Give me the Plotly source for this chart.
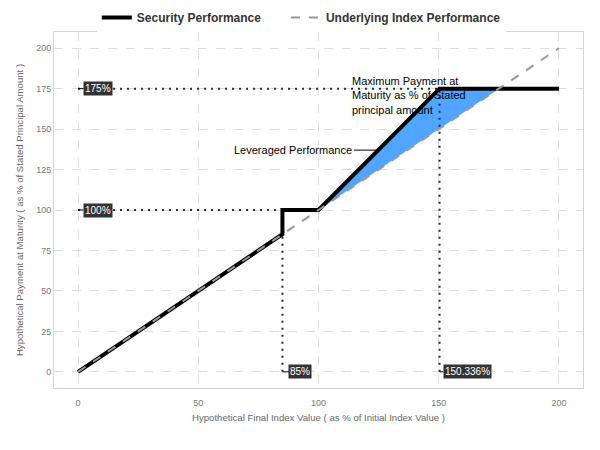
import plotly.graph_objects as go

# Data
sec_x = [0, 85, 85, 100, 150.336, 200]
sec_y = [0, 85, 100, 100, 175, 175]
idx_x = [0, 200]
idx_y = [0, 200]
fill_x = [100, 150.336, 175, 100]
fill_y = [100, 175, 175, 100]
cap_level = 175
par_level = 100
barrier_x = 85
cap_x = 150.336
x_ticks = [0, 50, 100, 150, 200]
y_ticks = [0, 25, 50, 75, 100, 125, 150, 175, 200]

FONT = "Liberation Sans, Arial, sans-serif"
DOT = "2px,5px"
DOTC = "#1b2a49"

fig = go.Figure()

# blue leverage area
fig.add_trace(go.Scatter(x=fill_x, y=fill_y, fill="toself", fillcolor="#4fa5ff",
                         mode="lines", line=dict(width=0), showlegend=False, hoverinfo="skip"))

# dotted guide lines
fig.add_trace(go.Scatter(x=[0, cap_x], y=[cap_level, cap_level], mode="lines",
                         line=dict(color=DOTC, width=2, dash=DOT), showlegend=False))
fig.add_trace(go.Scatter(x=[0, barrier_x], y=[par_level, par_level], mode="lines",
                         line=dict(color=DOTC, width=2, dash=DOT), showlegend=False))
fig.add_trace(go.Scatter(x=[barrier_x, barrier_x], y=[0, par_level], mode="lines",
                         line=dict(color=DOTC, width=2, dash=DOT), showlegend=False))
fig.add_trace(go.Scatter(x=[cap_x, cap_x], y=[0, cap_level], mode="lines",
                         line=dict(color=DOTC, width=2, dash=DOT), showlegend=False))

# security performance
fig.add_trace(go.Scatter(x=sec_x, y=sec_y, mode="lines",
                         name="<b>Security Performance</b>" + "&nbsp;" * 6,
                         line=dict(color="black", width=4), legendrank=1))
# underlying
fig.add_trace(go.Scatter(x=idx_x, y=idx_y, mode="lines", name="<b>Underlying Index Performance</b>",
                         line=dict(color="#999999", width=2, dash="dash"), legendrank=2))

def label(x, y, text, ax):
    fig.add_annotation(x=x, y=y, text=text, showarrow=True, arrowhead=0, arrowwidth=1,
                       arrowcolor="black", ax=ax, ay=0, bgcolor="#333333",
                       font=dict(color="white", size=10, family=FONT), borderpad=1)

label(0, cap_level, "175%", 20)
label(0, par_level, "100%", 20)
label(barrier_x, 0, "85%", 18)
label(cap_x, 0, "150.336%", 28)

fig.add_annotation(x=124.5, y=137, text="Leveraged Performance", showarrow=True,
                   arrowhead=0, arrowwidth=1, arrowcolor="black", ax=-84, ay=0,
                   font=dict(color="black", size=11, family=FONT))
fig.add_annotation(x=113.3, y=171, text="Maximum Payment at<br>Maturity as % of Stated<br>principal amount",
                   showarrow=False, xanchor="left", yanchor="middle", align="left",
                   font=dict(color="black", size=11, family=FONT))

# y axis title as rotated annotation
fig.add_annotation(xref="paper", yref="paper", x=-0.066, y=0.5, textangle=-90,
                   text="Hypothetical Payment at Maturity ( as % of Stated Principal Amount )",
                   showarrow=False, xanchor="center", yanchor="middle",
                   font=dict(size=9.6, color="#666666", family=FONT))

axis_common = dict(showgrid=True, gridcolor="#dddddd", griddash="dash", gridwidth=1,
                   zeroline=False, showline=True, mirror=True, linecolor="#cfd5de", linewidth=1,
                   tickfont=dict(size=9, color="#777777", family=FONT),
                   ticks="", range=[-10, 210], automargin=False)

fig.update_xaxes(**axis_common, tickvals=x_ticks, ticklabelstandoff=6,
                 title=dict(text="Hypothetical Final Index Value ( as % of Initial Index Value )",
                            font=dict(size=9.6, color="#666666", family=FONT), standoff=7))
fig.update_yaxes(**axis_common, tickvals=y_ticks)

fig.update_layout(
    width=600, height=450,
    margin=dict(l=46, r=25, t=24, b=70, autoexpand=False),
    plot_bgcolor="white", paper_bgcolor="white",
    font=dict(family=FONT),
    legend=dict(orientation="h", x=0.081, xanchor="left", y=1.0, yanchor="bottom",
                font=dict(size=12, color="#333333", family=FONT)),
)

fig.write_html("out.html")
